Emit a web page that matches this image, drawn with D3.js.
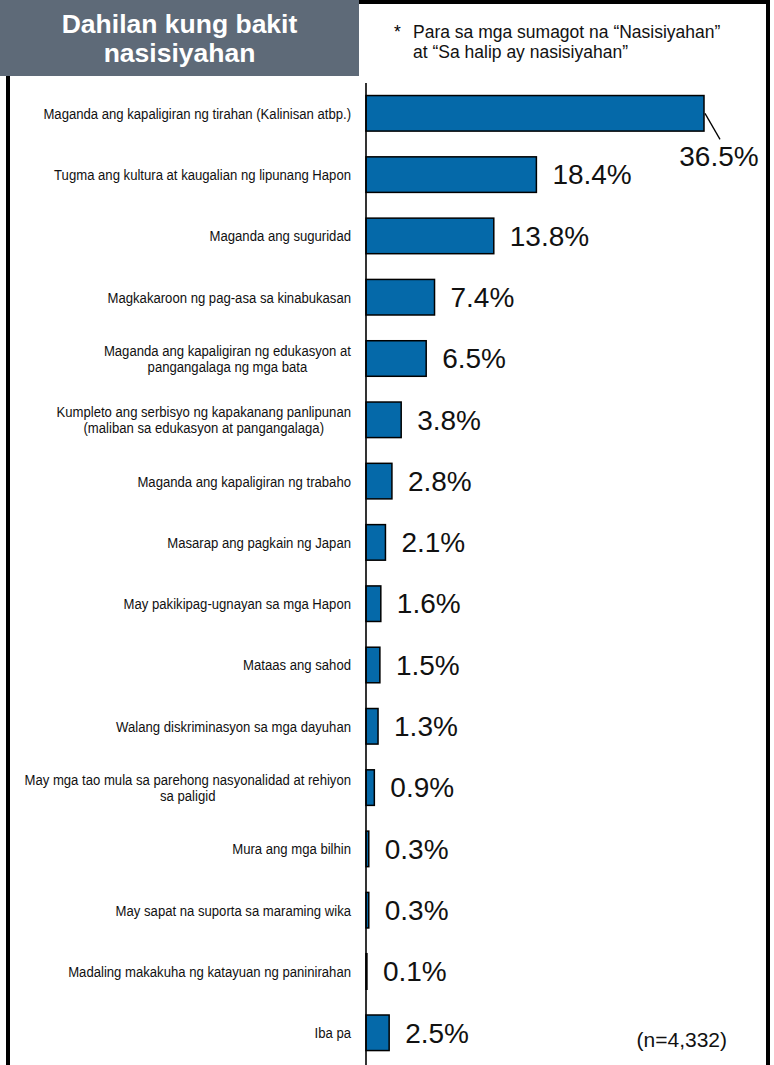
<!DOCTYPE html>
<html>
<head>
<meta charset="utf-8">
<script src="https://cdn.jsdelivr.net/npm/d3@7"></script>
<style>
  html, body { margin: 0; padding: 0; background: #fff; }
  svg { display: block; }
  text { font-family: "Liberation Sans", Arial, sans-serif; }
</style>
</head>
<body>
<svg id="chart" width="774" height="1065"></svg>
<script>
const categories = [
  ["Maganda ang kapaligiran ng tirahan (Kalinisan atbp.)"],
  ["Tugma ang kultura at kaugalian ng lipunang Hapon"],
  ["Maganda ang suguridad"],
  ["Magkakaroon ng pag-asa sa kinabukasan"],
  ["Maganda ang kapaligiran ng edukasyon at", "pangangalaga ng mga bata"],
  ["Kumpleto ang serbisyo ng kapakanang panlipunan", "(maliban sa edukasyon at pangangalaga)"],
  ["Maganda ang kapaligiran ng trabaho"],
  ["Masarap ang pagkain ng Japan"],
  ["May pakikipag-ugnayan sa mga Hapon"],
  ["Mataas ang sahod"],
  ["Walang diskriminasyon sa mga dayuhan"],
  ["May mga tao mula sa parehong nasyonalidad at rehiyon", "sa paligid"],
  ["Mura ang mga bilhin"],
  ["May sapat na suporta sa maraming wika"],
  ["Madaling makakuha ng katayuan ng paninirahan"],
  ["Iba pa"]
];
const values = [36.5, 18.4, 13.8, 7.4, 6.5, 3.8, 2.8, 2.1, 1.6, 1.5, 1.3, 0.9, 0.3, 0.3, 0.1, 2.5];
const titleLines = ["Dahilan kung bakit", "nasisiyahan"];
const noteLines = ["Para sa mga sumagot na \u201cNasisiyahan\u201d", "at \u201cSa halip ay nasisiyahan\u201d"];
const sampleNote = "(n=4,332)";

const svg = d3.select("#chart");
const ids = d3.range(values.length);

const x = d3.scaleLinear().domain([0, 36.5]).range([366, 704]);
const y = d3.scaleBand().domain(ids).range([69.8, 1076.3]).paddingInner(0.42).paddingOuter(0.42);

// frame
svg.append("rect")
  .attr("x", 8).attr("y", 2).attr("width", 760).attr("height", 1200)
  .attr("fill", "none").attr("stroke", "#000").attr("stroke-width", 4);

// title box
svg.append("rect").attr("x", 0).attr("y", 0).attr("width", 359).attr("height", 76).attr("fill", "#5e6a78");
svg.append("g").selectAll("text").data(titleLines).join("text")
  .attr("x", 179.5).attr("y", (d, i) => 33 + i * 29)
  .attr("text-anchor", "middle").attr("fill", "#fff")
  .attr("font-size", 26.5).attr("font-weight", "bold").text(d => d);

// note
svg.append("text").attr("x", 394).attr("y", 37.5).attr("font-size", 17.5).text("*");
svg.append("g").selectAll("text").data(noteLines).join("text")
  .attr("x", 413).attr("y", (d, i) => 37.5 + i * 20.5)
  .attr("font-size", 17.5).attr("fill", "#111").text(d => d);

// bars
svg.append("g").selectAll("rect").data(values).join("rect")
  .attr("x", x(0))
  .attr("y", (d, i) => y(i))
  .attr("width", d => x(d) - x(0))
  .attr("height", y.bandwidth())
  .attr("fill", "#0569a9")
  .attr("stroke", "#000").attr("stroke-width", 1.5);

// axis line
svg.append("line").attr("x1", x(0)).attr("x2", x(0)).attr("y1", 83).attr("y2", 1065)
  .attr("stroke", "#000").attr("stroke-width", 1.6);

// category labels (narrow)
const lblSize = 15, lblScale = 0.875, lblLH = 16.5, lblRight = 351;
const lg = svg.append("g");
categories.forEach((lines, i) => {
  const cy = y(i) + y.bandwidth() / 2;
  const g = lg.append("g").attr("transform", `translate(${lblRight},${cy}) scale(${lblScale},1)`);
  const n = lines.length;
  const ts = g.selectAll("text").data(lines).join("text")
    .attr("font-size", lblSize).attr("fill", "#111")
    .attr("y", (d, k) => (k - (n - 1) / 2) * lblLH)
    .attr("dy", "0.36em")
    .text(d => d);
  let maxW = 0;
  ts.each(function () { maxW = Math.max(maxW, this.getComputedTextLength()); });
  ts.attr("text-anchor", "middle").attr("x", -maxW / 2);
});

// value labels
const vg = svg.append("g");
values.forEach((v, i) => {
  const cy = y(i) + y.bandwidth() / 2;
  if (i === 0) {
    vg.append("line").attr("x1", x(v) + 1).attr("y1", cy).attr("x2", x(v) + 16).attr("y2", cy + 26)
      .attr("stroke", "#000").attr("stroke-width", 1.3);
    vg.append("text").attr("x", x(v) + 15).attr("y", cy + 53).attr("text-anchor", "middle")
      .attr("font-size", 28).attr("fill", "#111").text(v.toFixed(1) + "%");
  } else {
    vg.append("text").attr("x", x(v) + 16).attr("y", cy).attr("dy", "0.35em")
      .attr("font-size", 28).attr("fill", "#111").text(v.toFixed(1) + "%");
  }
});

// sample size
svg.append("text").attr("x", 727).attr("y", 1047).attr("text-anchor", "end")
  .attr("font-size", 21).attr("fill", "#111").text(sampleNote);
</script>
</body>
</html>
